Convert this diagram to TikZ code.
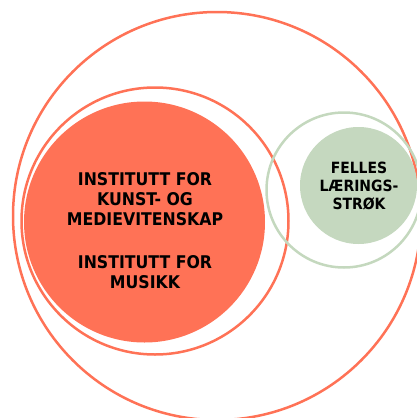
\documentclass[tikz,border=0pt]{standalone}
\usepackage{fontspec}
\setmainfont{DejaVu Sans Condensed}
\definecolor{coral}{RGB}{255,114,86}
\definecolor{sage}{RGB}{197,216,191}
\definecolor{sageline}{RGB}{196,216,190}
\tikzset{
  ring/.style={circle, draw=#1, line width=2.5pt, inner sep=0pt, fill=none},
  disc/.style={circle, fill=#1, draw=none, inner sep=0pt},
  lbl/.style={align=center, inner sep=0pt, text=black}
}
\begin{document}
\begin{tikzpicture}[x=1pt,y=-1pt]
\useasboundingbox (0,0) rectangle (417,418);
\clip (0,0) rectangle (417,418);
\node[ring=coral, minimum size=408pt] (outer) at (217,216) {};
\node[ring=coral, minimum size=267pt] (mid) at (155,221) {};
\node[disc=coral, minimum size=241pt] (inst) at (144.5,222) {};
\node[ring=sageline, minimum size=155pt] (gring) at (344,190) {};
\node[disc=sage, minimum size=117pt] (gdisc) at (358.5,185.5) {};
\node[lbl, font={\fontsize{17.5}{20}\selectfont\bfseries}] (kunst) at (145,231) {INSTITUTT FOR\\KUNST- OG\\MEDIEVITENSKAP\\[23pt]INSTITUTT FOR\\MUSIKK};
\node[lbl, font={\fontsize{15.5}{18}\selectfont\bfseries}] (felles) at (359,186) {FELLES\\LÆRINGS-\\STRØK};
\end{tikzpicture}
\end{document}
